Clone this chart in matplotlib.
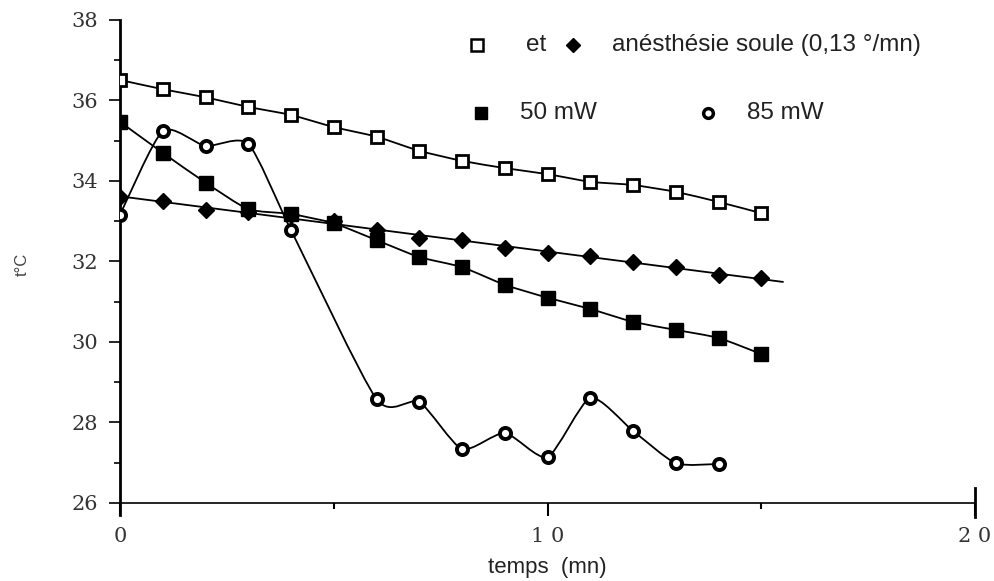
import numpy as np
import matplotlib.pyplot as plt
from matplotlib.path import Path
from matplotlib.patches import PathPatch

# donnees
temps = np.arange(16)
et = [36.51, 36.28, 36.08, 35.84, 35.64, 35.34, 35.10, 34.75, 34.50, 34.32,
      34.17, 33.98, 33.90, 33.73, 33.48, 33.20]
anesthesie = [33.60, 33.50, 33.28, 33.23, 33.15, 33.00, 32.78, 32.58, 32.53, 32.34,
              32.21, 32.14, 31.99, 31.86, 31.66, 31.59]
mw50 = [35.47, 34.70, 33.96, 33.30, 33.18, 32.95, 32.53, 32.11, 31.86, 31.42,
        31.10, 30.82, 30.50, 30.30, 30.10, 29.70]
temps85 = [0, 1, 2, 3, 4, 6, 7, 8, 9, 10, 11, 12, 13, 14]
mw85 = [33.16, 35.24, 34.87, 34.92, 32.78, 28.58, 28.51, 27.34, 27.74,
        27.14, 28.61, 27.79, 26.99, 26.97]
fin_droite = 15.5

xticks = [0, 10, 20]
xlabels = ['0', '1 0', '2 0']
yticks = [26, 28, 30, 32, 34, 36, 38]


def courbe(ax, x, y, k=10):
    # courbe legerement lissee passant par les points
    p = np.column_stack([x, y]).astype(float)
    verts = [p[0]]
    codes = [Path.MOVETO]
    n = len(p)
    for i in range(n - 1):
        a = p[i - 1] if i > 0 else p[i]
        d = p[i + 2] if i + 2 < n else p[i + 1]
        c1 = p[i] + (p[i + 1] - a) / k
        c2 = p[i + 1] - (d - p[i]) / k
        verts += [c1, c2, p[i + 1]]
        codes += [Path.CURVE4] * 3
    ax.add_patch(PathPatch(Path(verts, codes), fill=False, lw=1.3, color='black', zorder=2))


fig = plt.figure(figsize=(9.95, 5.81), dpi=100)
ax = fig.add_axes([0.1206, 0.1343, 0.8594, 0.8313])

courbe(ax, temps, et)
courbe(ax, temps, mw50)
courbe(ax, temps85, mw85, k=9)
a, b = np.polyfit(temps, anesthesie, 1)
xl = np.array([0, fin_droite])
ax.plot(xl, a * xl + b, color='black', lw=1.3, zorder=2)

ax.plot(temps, et, 's', ms=9, mfc='white', mec='black', mew=2, zorder=3)
ax.plot(temps, anesthesie, 'D', ms=8, color='black', zorder=3)
ax.plot(temps, mw50, 's', ms=10, color='black', zorder=3)
ax.plot(temps85, mw85, 'o', ms=8, mfc='white', mec='black', mew=2.8, zorder=3)

ax.set_xlim(0, 20)
ax.set_ylim(26, 38)
ax.spines['top'].set_visible(False)
ax.spines['right'].set_visible(False)
ax.spines['left'].set_linewidth(2)
ax.spines['bottom'].set_linewidth(1.2)
ax.spines['left'].set_bounds(25.7, 38)

ax.set_xticks(xticks)
ax.set_xticklabels(xlabels)
ax.set_xticks([5, 15], minor=True)
ax.set_yticks(yticks)
ax.set_yticks(np.arange(27, 38, 2), minor=True)
ax.tick_params(axis='y', which='major', direction='out', length=8, width=1.2,
               labelsize=15, pad=8)
ax.tick_params(axis='y', which='minor', direction='out', length=4, width=1.2)
ax.tick_params(axis='x', which='major', direction='out', length=9, width=1.5,
               labelsize=15, pad=8)
ax.tick_params(axis='x', which='minor', direction='out', length=4, width=1.5)
for lab in ax.get_xticklabels() + ax.get_yticklabels():
    lab.set_family('DejaVu Serif')
    lab.set_color('#333333')
ax.axvline(20, ymin=-0.03, ymax=0.03, color='black', lw=2, clip_on=False)

ax.set_xlabel('temps  (mn)', fontsize=16, family='Liberation Sans', labelpad=8,
              color='#222222')
fig.text(0.022, 0.545, 't°C', rotation=90, fontsize=12, family='Liberation Sans',
         ha='center', va='center', color='#444444')

# legende
fs = 17.5
ax.plot([8.35], [37.38], 's', ms=8, mfc='white', mec='black', mew=1.8, clip_on=False)
ax.text(9.5, 37.38, 'et', fontsize=fs, family='Liberation Sans', va='center', color='#222222')
ax.plot([10.6], [37.38], 'D', ms=7, color='black', clip_on=False)
ax.text(11.5, 37.38, 'anésthésie soule (0,13 °/mn)', fontsize=fs,
        family='Liberation Sans', va='center', color='#222222')
ax.plot([8.45], [35.69], 's', ms=8, color='black', clip_on=False)
ax.text(9.35, 35.69, '50 mW', fontsize=fs, family='Liberation Sans', va='center', color='#222222')
ax.plot([13.75], [35.69], 'o', ms=7, mfc='white', mec='black', mew=2.5, clip_on=False)
ax.text(14.67, 35.69, '85 mW', fontsize=fs, family='Liberation Sans', va='center', color='#222222')

fig.savefig('out.png', dpi=100)
